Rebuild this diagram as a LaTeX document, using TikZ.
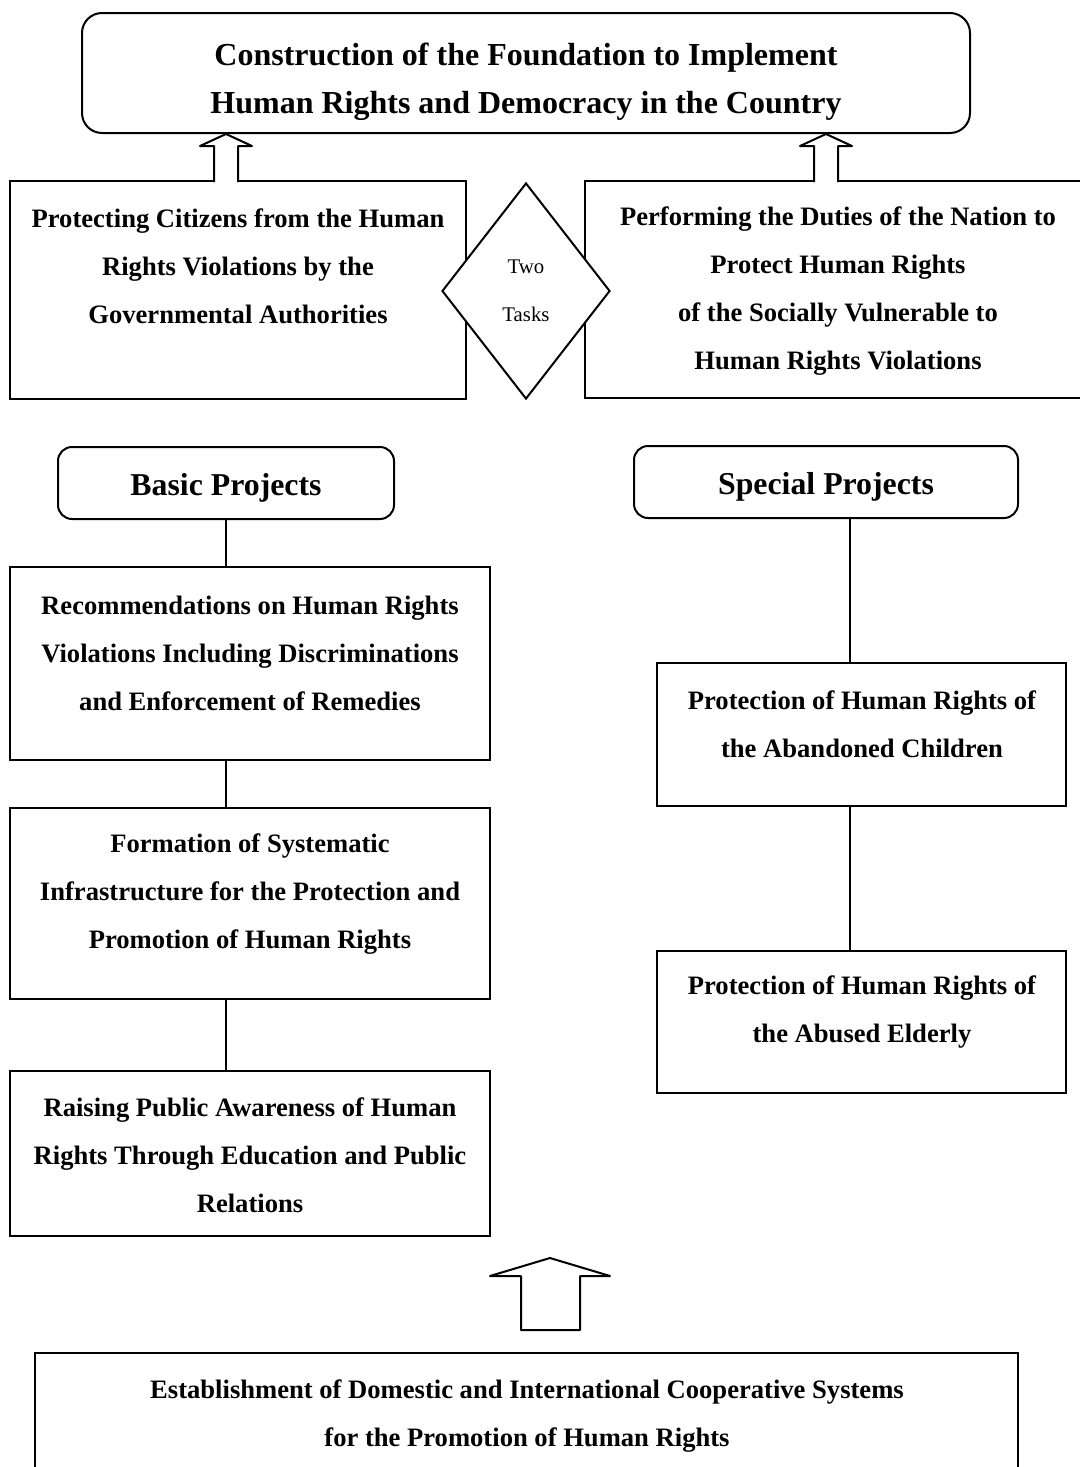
\documentclass[tikz,border=0pt]{standalone}
\usepackage{fontspec}
\setmainfont{Liberation Serif}
\usetikzlibrary{shapes.geometric,calc}
\begin{document}
\begin{tikzpicture}[x=0.5pt,y=-0.5pt,
  line width=1pt,
  frame/.style={draw,rectangle,inner sep=0pt},
  rframe/.style={draw,rectangle,rounded corners=7pt,inner sep=0pt},
  txt/.style={align=center,inner sep=0pt,font=\bfseries\fontsize{13.3}{24}\selectfont},
  htxt/.style={align=center,inner sep=0pt,font=\bfseries\fontsize{16}{24}\selectfont},
  ptxt/.style={align=center,inner sep=0pt,font=\bfseries\fontsize{15.9}{24}\selectfont},
  barrow/.style={draw,fill=white,line join=round},
  link/.style={draw}]
\useasboundingbox (0,0) rectangle (1080,1467);
\fill[white] (0,0) rectangle (1080,1467);

% top box
\node[rframe,minimum width=444pt,minimum height=60pt,rounded corners=10pt] (top) at (526,73) {};
\node[htxt] (topt) at (526,82) {Construction of the Foundation to Implement\\Human Rights and Democracy in the Country};

% task boxes
\node[frame,minimum width=228pt,minimum height=109pt] (lb) at (238,290) {};
\node[txt] (lbt) at (238,266) {Protecting Citizens from the Human\\Rights Violations by the\\Governmental Authorities};
\node[frame,minimum width=252.5pt,minimum height=108.5pt] (rb) at (837.5,289.5) {};
\node[txt] (rbt) at (838,291) {Performing the Duties of the Nation to\\Protect Human Rights\\of the Socially Vulnerable to\\Human Rights Violations};
\node[draw,diamond,fill=white,minimum width=84pt,minimum height=108pt,inner sep=0pt,align=center,font=\fontsize{10.4}{24}\selectfont] (dia) at (526,291) {Two\\Tasks};

% block arrows to top
\coordinate (a1) at ($(top.south)+(-300,0)$);
\draw[barrow] ($(a1)+(-12,48)$) -- ++(0,-36) -- ++(-14,0) -- (a1) -- ++(26,12) -- ++(-14,0) -- ++(0,36);
\coordinate (a2) at ($(top.south)+(300,0)$);
\draw[barrow] ($(a2)+(-12,48)$) -- ++(0,-36) -- ++(-14,0) -- (a2) -- ++(26,12) -- ++(-14,0) -- ++(0,36);

% project headers
\node[rframe,minimum width=168pt,minimum height=36pt] (basic) at (226,483) {};
\node[ptxt] (basict) at (226,488) {Basic Projects};
\node[rframe,minimum width=192pt,minimum height=36pt] (special) at (826,482) {};
\node[ptxt] (specialt) at (826,487) {Special Projects};

% basic projects
\node[frame,minimum width=240pt,minimum height=96.5pt] (b1) at (250,663.5) {};
\node[txt] (b1t) at (250,653) {Recommendations on Human Rights\\Violations Including Discriminations\\and Enforcement of Remedies};
\node[frame,minimum width=240pt,minimum height=95.5pt] (b2) at (250,903.5) {};
\node[txt] (b2t) at (250,894) {Formation of Systematic\\Infrastructure for the Protection and\\Promotion of Human Rights};
\node[frame,minimum width=240pt,minimum height=82.5pt] (b3) at (250,1153.5) {};
\node[txt] (b3t) at (250,1155) {Raising Public Awareness of Human\\Rights Through Education and Public\\Relations};

% special projects
\node[frame,minimum width=204.5pt,minimum height=71.5pt] (s1) at (861.5,734.5) {};
\node[txt] (s1t) at (862,724.5) {Protection of Human Rights of\\the Abandoned Children};
\node[frame,minimum width=204.5pt,minimum height=71pt] (s2) at (861.5,1022) {};
\node[txt] (s2t) at (862,1012) {Protection of Human Rights of\\the Abused Elderly};

% connectors
\draw[link] (basic.south) -- (basic.south |- b1.north);
\draw[link] (basic.south |- b1.south) -- (basic.south |- b2.north);
\draw[link] (basic.south |- b2.south) -- (basic.south |- b3.north);
\coordinate (sp) at ($(special.south)+(24,0)$);
\draw[link] (sp) -- (sp |- s1.north);
\draw[link] (sp |- s1.south) -- (sp |- s2.north);

% bottom box
\node[frame,minimum width=491.5pt,minimum height=63.5pt] (bot) at (526.5,1416.5) {};
\node[txt] (bott) at (527,1416) {Establishment of Domestic and International Cooperative Systems\\for the Promotion of Human Rights};

% bottom block arrow
\coordinate (a3) at ($(bot.north)+(23.5,-94)$);
\draw[barrow] (a3) -- ++(60,18) -- ++(-30,0) -- ++(0,54) -- ++(-59,0) -- ++(0,-54) -- ++(-31,0) -- cycle;
\end{tikzpicture}
\end{document}
